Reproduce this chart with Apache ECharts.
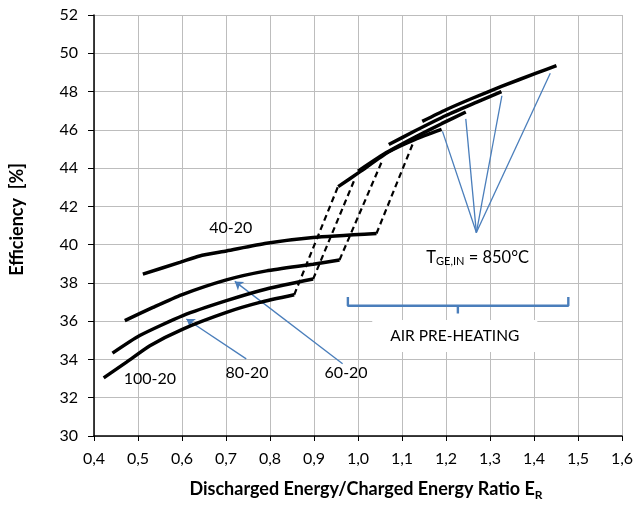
<!DOCTYPE html>
<html>
<head>
<meta charset="utf-8">
<script src="https://cdn.jsdelivr.net/npm/echarts@6/dist/echarts.min.js"></script>
<style>
html, body { margin: 0; padding: 0; background: #fff; }
#chart { width: 637px; height: 506px; }
</style>
</head>
<body>
<div id="chart"></div>
<script>
// curves without air pre-heating (x = E_R, y = efficiency %)
var low100 = [[0.422,33.04],[0.474,33.86],[0.527,34.72],[0.602,35.59],[0.701,36.46],[0.777,36.98],[0.855,37.38]];
var low80 = [[0.442,34.33],[0.504,35.25],[0.602,36.29],[0.701,37.07],[0.792,37.68],[0.898,38.2]];
var low60 = [[0.47,36.03],[0.534,36.72],[0.599,37.38],[0.701,38.16],[0.792,38.63],[0.898,38.98],[0.958,39.2]];
var low40 = [[0.511,38.46],[0.595,39.07],[0.64,39.41],[0.701,39.67],[0.792,40.07],[0.898,40.37],[1.042,40.58]];

// curves with air pre-heating
var high100 = [[0.955,43.03],[1.004,43.8],[1.07,44.85],[1.13,45.5],[1.19,46.02]];
var high80 = [[1.0,43.84],[1.06,44.75],[1.13,45.62],[1.19,46.32],[1.245,46.93]];
var high60 = [[1.07,45.23],[1.13,45.95],[1.2,46.75],[1.27,47.45],[1.326,48.0]];
var high40 = [[1.146,46.44],[1.2,47.05],[1.26,47.65],[1.326,48.27],[1.405,48.96],[1.451,49.36]];

// dashed transitions
var jump100 = [[0.855,37.38],[0.955,43.06]];
var jump80 = [[0.898,38.2],[0.993,43.45]];
var jump60 = [[0.958,39.2],[1.053,44.28]];
var jump40 = [[1.042,40.58],[1.125,45.3]];

// annotations (data units)
var fanApex = [1.269, 40.63];
var fanEnds = [[1.192,45.92],[1.245,46.57],[1.327,47.78],[1.437,48.96]];
var arrows = [[[0.746,34.03],[0.61,36.11]], [[0.965,33.77],[0.72,38.08]]];
var brace = [[0.977,37.26],[0.977,36.81],[1.478,36.81],[1.478,37.26]];
var braceTip = [[1.227,36.81],[1.227,36.4]];
var curveLabels = [['40-20',0.711,40.89],['100-20',0.527,32.99],['80-20',0.748,33.3],['60-20',0.973,33.3]];

var blue = '#4a7ebb';
var font = 'Lato, "Open Sans", sans-serif';

function solid(data) {
    return { type: 'line', data: data, showSymbol: false, symbol: 'none', smooth: 0.2,
        lineStyle: { color: '#000', width: 3.5 }, z: 5, silent: true };
}
function dashed(data) {
    return { type: 'line', data: data, symbol: 'none',
        lineStyle: { color: '#000', width: 2.2, type: [6, 4] }, z: 4, silent: true };
}

var myChart = echarts.init(document.getElementById('chart'));

var series = [];
[low100, low80, low60, low40, high100, high80, high60, high40].forEach(function (d) {
    series.push(solid(d));
});
[jump100, jump80, jump60, jump40].forEach(function (d) {
    series.push(dashed(d));
});

// blue fan lines + arrows
var markData = fanEnds.map(function (e) {
    return [{ coord: fanApex, symbol: 'none' }, { coord: e, symbol: 'none' }];
});
arrows.forEach(function (a) {
    markData.push([{ coord: a[0], symbol: 'none' }, { coord: a[1], symbol: 'arrow', symbolSize: 8 }]);
});
series.push({
    type: 'line', data: [], symbol: 'none', silent: true,
    markLine: { silent: true, animation: false, symbol: 'none', label: { show: false },
        lineStyle: { color: blue, width: 1.3, type: 'solid' }, data: markData }
});
series.push({ type: 'line', data: brace, symbol: 'none', silent: true,
    lineStyle: { color: blue, width: 2.4 } });
series.push({ type: 'line', data: braceTip, symbol: 'none', silent: true,
    lineStyle: { color: blue, width: 2.4 } });

var option = {
    animation: false,
    grid: { left: 94, right: 15, top: 15, bottom: 68 },
    xAxis: {
        type: 'value', min: 0.4, max: 1.6, interval: 0.1,
        name: 'Discharged Energy/Charged Energy Ratio E{sub|R}',
        nameLocation: 'middle', nameGap: 42,
        nameTextStyle: { color: '#000', fontSize: 18, fontWeight: 'bold', fontFamily: font,
            padding: [0, 0, 0, 16],
            rich: { sub: { fontSize: 12, fontWeight: 'bold', fontFamily: font, verticalAlign: 'bottom', padding: [11, 0, 0, 0] } } },
        axisLine: { lineStyle: { color: '#000', width: 1.5 } },
        axisTick: { show: true, length: 5, lineStyle: { color: '#000' } },
        axisLabel: { color: '#000', fontSize: 16, fontFamily: font, margin: 15,
            formatter: function (v) { return v.toFixed(1).replace('.', ','); } },
        splitLine: { show: true, lineStyle: { color: '#bdbdbd', width: 1 } }
    },
    yAxis: {
        type: 'value', min: 30, max: 52, interval: 2,
        name: 'Efficiency  [%]', nameLocation: 'middle', nameGap: 68, nameRotate: 90,
        nameTextStyle: { color: '#000', fontSize: 18, fontWeight: 'bold', fontFamily: font,
            padding: [0, 0, 0, 12] },
        axisLine: { show: true, lineStyle: { color: '#000', width: 1.5 } },
        axisTick: { show: true, length: 6, lineStyle: { color: '#000' } },
        axisLabel: { color: '#000', fontSize: 16, fontFamily: font, margin: 16 },
        splitLine: { show: true, lineStyle: { color: '#bdbdbd', width: 1 } }
    },
    series: series
};
myChart.setOption(option);

// texts placed in data coordinates
function px(x, y) {
    return myChart.convertToPixel({ gridIndex: 0 }, [x, y]);
}
var graphics = curveLabels.map(function (l) {
    var p = px(l[1], l[2]);
    return { type: 'text', x: p[0], y: p[1], z: 10,
        style: { text: l[0], fill: '#000', font: '16px ' + font, align: 'center', verticalAlign: 'middle' } };
});
var tp = px(1.272, 39.34);
graphics.push({ type: 'text', x: tp[0], y: tp[1], z: 10,
    style: { text: '{a|T}{s|GE,IN}{a| = 850°C}', align: 'center', verticalAlign: 'middle',
        rich: { a: { fontSize: 16.5, fontFamily: font, fill: '#000' },
                s: { fontSize: 11, fontFamily: font, fill: '#000', padding: [8, 0, 0, 0] } } } });
var ap = px(1.22, 35.23);
graphics.push({ type: 'text', x: ap[0], y: ap[1], z: 10,
    style: { text: 'AIR PRE-HEATING', fill: '#000', font: '15.5px ' + font, align: 'center', verticalAlign: 'middle',
        backgroundColor: '#fff', padding: [8, 18] } });
myChart.setOption({ graphic: graphics });
</script>
</body>
</html>
